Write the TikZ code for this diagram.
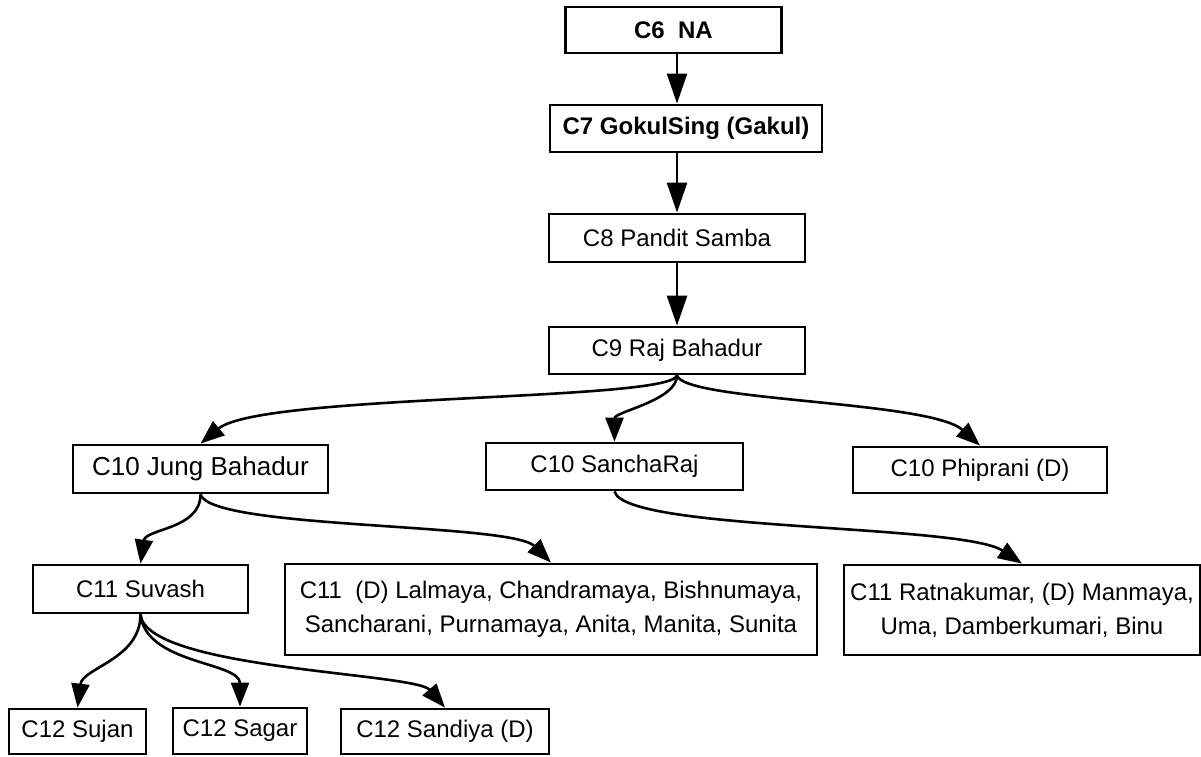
\documentclass[tikz,border=0pt]{standalone}
\usepackage{fontspec}
\setmainfont{Liberation Sans}
\usetikzlibrary{arrows.meta}
\begin{document}
\begin{tikzpicture}[x=1pt,y=-1pt,
  box/.style={draw,line width=2.8pt,inner sep=0pt,align=center,font=\fontsize{24}{34}\selectfont},
  bbox/.style={box,font=\fontsize{24}{34}\selectfont\bfseries},
  link/.style={line width=2.6pt,-{Triangle[length=24pt,width=18pt]}},
  biglink/.style={line width=2.6pt,-{Triangle[length=30pt,width=20pt]}}]
\useasboundingbox (0,0) rectangle (1201,756);
\node[bbox,minimum width=216pt,minimum height=46pt] (c6) at (673.5,30) {C6\ \ NA};
\node[bbox,minimum width=272pt,minimum height=47pt] (c7) at (686,128.5) {C7 GokulSing (Gakul)};
\node[box,minimum width=256pt,minimum height=48pt] (c8) at (677,238) {C8 Pandit Samba};
\node[box,minimum width=256pt,minimum height=47pt] (c9) at (677,350.5) {C9 Raj Bahadur};
\node[box,font=\fontsize{26}{34}\selectfont,minimum width=255pt,minimum height=48pt] (jung) at (200.5,469) {C10 Jung Bahadur};
\node[box,minimum width=257pt,minimum height=47pt] (sancha) at (614.5,466.5) {C10 SanchaRaj};
\node[box,minimum width=254pt,minimum height=46pt] (phip) at (980,470) {C10 Phiprani (D)};
\node[box,minimum width=215pt,minimum height=48pt] (suvash) at (140.5,589) {C11 Suvash};
\node[box,minimum width=532pt,minimum height=91pt] (lal) at (551,609.5) {C11\ \ (D) Lalmaya, Chandramaya, Bishnumaya,\\Sancharani, Purnamaya, Anita, Manita, Sunita};
\node[box,minimum width=356pt,minimum height=90pt] (ratna) at (1022,610) {C11 Ratnakumar, (D) Manmaya,\\Uma, Damberkumari, Binu};
\node[box,minimum width=137pt,minimum height=45pt] (sujan) at (77.5,731.5) {C12 Sujan};
\node[box,minimum width=134pt,minimum height=46pt] (sagar) at (240,731) {C12 Sagar};
\node[box,minimum width=208pt,minimum height=45pt] (sandiya) at (445,731.5) {C12 Sandiya (D)};
\draw[biglink] (c6.south -| c8) -- (c7.north -| c8);
\draw[biglink] (c7.south -| c8) -- (c8.north);
\draw[biglink] (c8.south) -- (c9.north);
\draw[link] (c9.south) .. controls +(-7,26) and +(60,-50) .. (jung.north);
\draw[link] (c9.south) .. controls +(0,25) and +(0,-30) .. (sancha.north);
\draw[link] (c9.south) .. controls +(7,26) and +(-50,-45) .. (phip.north);
\draw[link] (jung.south) .. controls +(0,35) and +(5,-35) .. (suvash.north);
\draw[link] (jung.south) .. controls +(10,35) and +(-40,-40) .. (lal.north);
\draw[link] (sancha.south) .. controls +(10,40) and +(-60,-40) .. (ratna.north);
\draw[link] (suvash.south) .. controls +(0,45) and +(5,-40) .. (sujan.north);
\draw[link] (suvash.south) .. controls +(5,50) and +(0,-45) .. (sagar.north);
\draw[link] (suvash.south) .. controls +(5,55) and +(-30,-35) .. (sandiya.north);
\end{tikzpicture}
\end{document}
